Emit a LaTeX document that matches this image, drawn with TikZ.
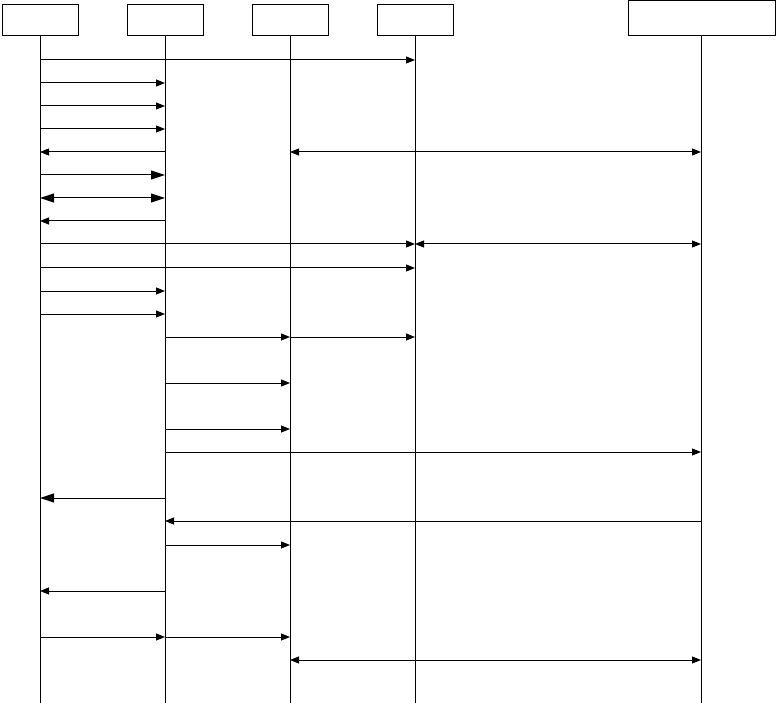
\documentclass[tikz,border=0pt]{standalone}
\usepackage{tikz}
\usetikzlibrary{arrows.meta}
\tikzset{
  ent/.style={draw,line width=1pt,inner sep=0pt,minimum width=76pt,minimum height=31pt},
  life/.style={line width=1pt},
  msg/.style={line width=1pt,-{Triangle[length=9pt,width=7pt]}},
  bigmsg/.style={line width=1pt,-{Triangle[length=14pt,width=9pt]}},
  both/.style={line width=1pt,{Triangle[length=9pt,width=7pt]}-{Triangle[length=9pt,width=7pt]}},
  bigboth/.style={line width=1pt,{Triangle[length=14pt,width=9pt]}-{Triangle[length=14pt,width=9pt]}}
}

\begin{document}
\begin{tikzpicture}[x=1pt,y=-1pt,line cap=butt]
  \useasboundingbox (0,0) rectangle (776,703);
  % entities
  \node[ent] (A) at (40,20.5) {};
  \node[ent] (B) at (165,20.5) {};
  \node[ent] (C) at (290,20.5) {};
  \node[ent] (D) at (415,20.5) {};
  \node[ent,minimum width=147pt,minimum height=35pt] (E) at (701.5,18.5) {};
  \coordinate (bot) at (0,703);
  \foreach \p in {A,B,C,D} \draw[life] (\p.south) -- (\p.south |- bot);
  \draw[life] (E.south -| 701,0) -- (701,703) coordinate (Ebot);
  \coordinate (e) at (701,0);
  % rows
  \foreach \n/\y in {1/60,2/83,3/106,4/129,5/152,6/175,7/198,8/221,9/244,10/268,11/291,
                     12/314,13/337,14/383,15/429,16/452,17/498,18/521,19/545,20/591,21/637,22/660}
    \coordinate (r\n) at (0,\y);
  % messages
  \draw[msg] (A |- r1) -- (D |- r1);
  \foreach \n in {2,3,4} \draw[msg] (A |- r\n) -- (B |- r\n);
  \draw[msg] (B |- r5) -- (A |- r5);
  \draw[both] (C |- r5) -- (e |- r5);
  \draw[bigmsg] (A |- r6) -- (B |- r6);
  \draw[bigboth] (A |- r7) -- (B |- r7);
  \draw[msg] (B |- r8) -- (A |- r8);
  \draw[msg] (A |- r9) -- (D |- r9);
  \draw[both] (D |- r9) -- (e |- r9);
  \draw[msg] (A |- r10) -- (D |- r10);
  \foreach \n in {11,12} \draw[msg] (A |- r\n) -- (B |- r\n);
  \draw[msg] (B |- r13) -- (C |- r13);
  \draw[msg] (C |- r13) -- (D |- r13);
  \foreach \n in {14,15} \draw[msg] (B |- r\n) -- (C |- r\n);
  \draw[msg] (B |- r16) -- (e |- r16);
  \draw[bigmsg] (B |- r17) -- (A |- r17);
  \draw[msg] (e |- r18) -- (B |- r18);
  \draw[msg] (B |- r19) -- (C |- r19);
  \draw[msg] (B |- r20) -- (A |- r20);
  \draw[msg] (A |- r21) -- (B |- r21);
  \draw[msg] (B |- r21) -- (C |- r21);
  \draw[both] (C |- r22) -- (e |- r22);
\end{tikzpicture}
\end{document}
